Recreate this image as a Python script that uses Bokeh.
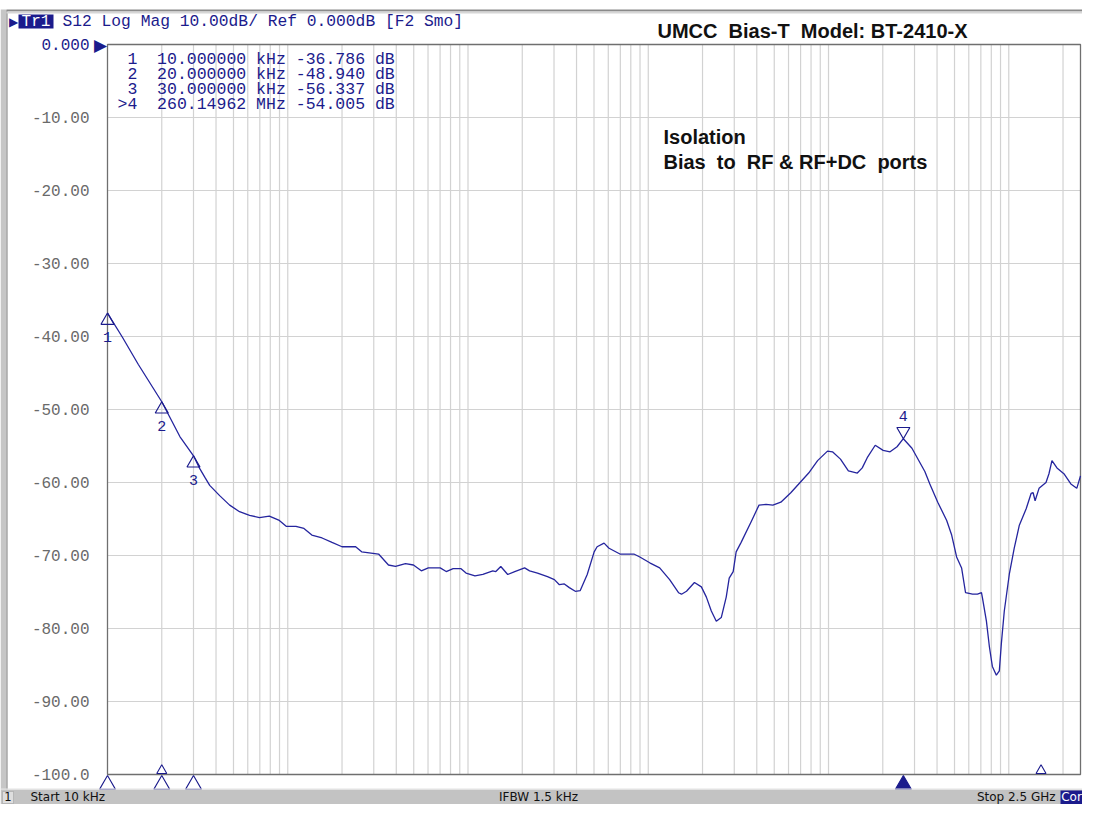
import math
from bokeh.plotting import figure
from bokeh.models import Range1d, Label, LabelSet, BoxAnnotation, ColumnDataSource
from bokeh.core.properties import value
from bokeh.embed import file_html
from bokeh.resources import INLINE

# ---------------- data ----------------
freq_hz = [
    10.0e3, 12.1e3, 14.8e3, 20.0e3, 25.2e3, 30.0e3, 32.5e3, 34.7e3, 36.9e3, 41.9e3,
    47.6e3, 54.0e3, 61.4e3, 69.7e3, 79.0e3, 89.8e3, 98.0e3, 111e3, 123e3, 136e3,
    155e3, 176e3, 200e3, 238e3, 257e3, 319e3, 362e3, 396e3, 450e3, 498e3,
    551e3, 602e3, 701e3, 757e3, 827e3, 915e3, 975e3, 1.093e6, 1.209e6, 1.373e6,
    1.427e6, 1.520e6, 1.661e6, 1.816e6, 2.061e6, 2.196e6, 2.430e6, 2.759e6, 3.015e6, 3.213e6,
    3.423e6, 3.648e6, 3.936e6, 4.195e6, 4.585e6, 5.01e6, 5.203e6, 5.686e6, 6.059e6, 6.966e6,
    8.321e6, 8.979e6, 10.19e6, 11.57e6, 13.14e6, 14.72e6, 15.29e6, 16.30e6, 18.04e6, 19.71e6,
    21.01e6, 22.38e6, 23.85e6, 25.41e6, 27.07e6, 28.12e6, 29.59e6, 30.73e6, 32.75e6, 37.17e6,
    41.15e6, 44.98e6, 49.14e6, 54.39e6, 61.75e6, 68.34e6, 77.6e6, 87.0e6, 98.7e6, 105.2e6,
    116.5e6, 128.9e6, 144.5e6, 153.9e6, 164.0e6, 181.6e6, 200.9e6, 219.6e6, 240.0e6, 260.15e6,
    290.3e6, 342.3e6, 364.8e6, 403.6e6, 452.5e6, 482.2e6, 513.6e6, 547.4e6, 575.8e6, 629.4e6,
    670.7e6, 705.6e6, 714.5e6, 751.6e6, 780.7e6, 811.0e6, 853.3e6, 886.5e6, 909.3e6, 944.5e6,
    1.0065e9, 1.0723e9, 1.143e9, 1.249e9, 1.330e9, 1.365e9, 1.400e9, 1.472e9, 1.609e9, 1.671e9,
    1.736e9, 1.851e9, 2.022e9, 2.210e9, 2.384e9, 2.5e9,
]
s12_db = [
    -36.79, -40.1, -43.8, -48.94, -53.7, -56.34, -58.1, -59.3, -60.4, -61.8,
    -63.1, -64.0, -64.5, -64.8, -64.6, -65.2, -66.0, -66.0, -66.3, -67.2,
    -67.6, -68.2, -68.8, -68.8, -69.5, -69.8, -71.3, -71.5, -71.1, -71.3,
    -72.1, -71.7, -71.7, -72.2, -71.8, -71.8, -72.4, -72.8, -72.6, -72.1,
    -72.2, -71.5, -72.6, -72.2, -71.7, -72.1, -72.4, -72.9, -73.3, -74.0,
    -73.9, -74.4, -74.9, -74.8, -72.6, -69.5, -68.8, -68.3, -69.0, -69.8,
    -69.8, -70.2, -71.0, -71.7, -73.3, -75.1, -75.3, -74.9, -73.7, -74.3,
    -75.7, -77.6, -79.0, -78.5, -75.7, -73.1, -72.2, -69.5, -68.2, -65.4,
    -63.1, -63.0, -63.1, -62.7, -61.4, -60.2, -58.7, -57.0, -55.7, -55.8,
    -56.8, -58.4, -58.7, -58.0, -56.6, -54.9, -55.6, -55.8, -55.1, -54.0,
    -55.3, -58.5, -60.2, -62.7, -65.2, -67.2, -70.2, -71.7, -75.1, -75.3,
    -75.3, -75.1, -75.8, -79.0, -82.5, -85.2, -86.4, -85.8, -82.1, -77.6,
    -72.6, -69.0, -65.9, -63.6, -61.5, -61.4, -62.5, -60.8, -60.0, -58.8,
    -57.0, -58.0, -58.8, -60.2, -60.8, -59.1,
]

marker_ids = ["1", "2", "3", "4"]
marker_freq_hz = [10.0e3, 20.0e3, 30.0e3, 260.14962e6]
marker_db = [-36.786, -48.940, -56.337, -54.005]
marker_freq_text = ["10.000000 kHz", "20.000000 kHz", "30.000000 kHz", "260.14962 MHz"]
active_marker = "4"

ref_marker_freq_hz = [20.0e3, 1.51e9]

y_ticks = [0, -10, -20, -30, -40, -50, -60, -70, -80, -90, -100]
y_tick_labels = ["0.000", "-10.00", "-20.00", "-30.00", "-40.00", "-50.00",
                 "-60.00", "-70.00", "-80.00", "-90.00", "-100.0"]

header_text = "S12 Log Mag 10.00dB/ Ref 0.000dB [F2 Smo]"
title_text = "UMCC\u00a0 Bias-T\u00a0 Model: BT-2410-X"
note_lines = ["Isolation", "Bias\u00a0 to\u00a0 RF & RF+DC\u00a0 ports"]
status_left = "Start 10 kHz"
status_mid = "IFBW 1.5 kHz"
status_right = "Stop 2.5 GHz"

# ---------------- styles / layout ----------------
NAVY = "#1b1b8c"
TRACE = "#25259e"
GRID = "#d2d2d2"
FRAME = "#6f6f6f"
LABEL_GRAY = "#6a6a6a"
MONO = "Liberation Mono"
SANS = "Liberation Sans"
UI = "DejaVu Sans"

W, H = 1082, 804
GL, GR, GT, GB = 107, 1080, 44, 774   # grid area in canvas pixels
BAR_TOP = 789

x0, x1 = freq_hz[0], freq_hz[-1]
y_top, y_bot = y_ticks[0], y_ticks[-1]
dec_px = (GR - GL) / math.log10(x1 / x0)
db_px = (GB - GT) / (y_top - y_bot)
xr = Range1d(10 ** (math.log10(x0) - GL / dec_px), 10 ** (math.log10(x1) + (W - GR) / dec_px))
yr = Range1d(y_bot - (H - GB) / db_px, y_top + GT / db_px)

p = figure(width=W, height=H, x_axis_type="log", x_axis_location=None, y_axis_location=None,
           x_range=xr, y_range=yr, output_backend="svg", toolbar_location=None, title=None,
           min_border=0, min_border_left=0, min_border_right=0, min_border_top=0,
           min_border_bottom=0)
p.background_fill_color = "white"
p.border_fill_color = "white"
p.outline_line_color = None
p.grid.visible = False


def box(cx0, cy0, cx1, cy1, color, line=None):
    p.add_layout(BoxAnnotation(left=cx0, right=cx1, top=H - cy0, bottom=H - cy1,
                               left_units="screen", right_units="screen",
                               top_units="screen", bottom_units="screen",
                               fill_color=color, fill_alpha=1,
                               line_color=line, line_width=1))


def label(cx, cy, text, font=MONO, size="16px", color=NAVY, align="left", style="normal"):
    p.add_layout(Label(x=cx, y=H - cy, x_units="screen", y_units="screen", text=text,
                       text_font=font, text_font_size=size, text_color=color,
                       text_align=align, text_baseline="middle", text_font_style=style))


# grid
x_grid = [k * 10 ** e for e in range(4, 10) for k in range(1, 10) if x0 < k * 10 ** e < x1]
p.segment(x0=x_grid, y0=[y_bot] * len(x_grid), x1=x_grid, y1=[y_top] * len(x_grid),
          line_color=GRID, line_width=1.2)
p.segment(x0=[x0] * len(y_ticks), y0=y_ticks, x1=[x1] * len(y_ticks), y1=y_ticks,
          line_color=GRID, line_width=1.2)
p.quad(left=[x0], right=[x1], bottom=[y_bot], top=[y_top], fill_color=None,
       line_color=FRAME, line_width=1.3)

# y tick labels
ysrc = ColumnDataSource(dict(y=y_ticks, lab=y_tick_labels,
                             col=[NAVY] + [LABEL_GRAY] * (len(y_ticks) - 1)))
p.add_layout(LabelSet(x=x0, y="y", text="lab", source=ysrc, x_offset=-18,
                      text_align="right", text_baseline="middle", text_color="col",
                      text_font=value(MONO), text_font_size=value("16px")))

# trace
p.line(freq_hz, s12_db, line_color=TRACE, line_width=1.3)

# markers on the trace (apex of the triangle on the trace point)
TRI = 13
tri_c = TRI * math.sqrt(3) / 3          # centroid-to-apex distance in px
up_idx = [i for i, m in enumerate(marker_ids) if m != active_marker]
dn_idx = [i for i, m in enumerate(marker_ids) if m == active_marker]
p.scatter(x=[marker_freq_hz[i] for i in up_idx],
          y=[marker_db[i] - tri_c / db_px for i in up_idx],
          marker="triangle", size=TRI, fill_color=None, line_color=NAVY, line_width=1.2)
p.scatter(x=[marker_freq_hz[i] for i in dn_idx],
          y=[marker_db[i] + tri_c / db_px for i in dn_idx],
          marker="inverted_triangle", size=TRI, fill_color=None, line_color=NAVY, line_width=1.2)
src_up = ColumnDataSource(dict(f=[marker_freq_hz[i] for i in up_idx],
                               db=[marker_db[i] for i in up_idx],
                               num=[marker_ids[i] for i in up_idx]))
src_dn = ColumnDataSource(dict(f=[marker_freq_hz[i] for i in dn_idx],
                               db=[marker_db[i] for i in dn_idx],
                               num=[marker_ids[i] for i in dn_idx]))
p.add_layout(LabelSet(x="f", y="db", text="num", source=src_up, text_align="center",
                      text_baseline="middle", y_offset=-24, text_color=NAVY,
                      text_font=value(MONO), text_font_size=value("15px")))
p.add_layout(LabelSet(x="f", y="db", text="num", source=src_dn, text_align="center",
                      text_baseline="middle", y_offset=23, text_color=NAVY,
                      text_font=value(MONO), text_font_size=value("15px")))

# marker indicators below the grid
BTRI = 16
bh = BTRI * math.sqrt(3) / 2
p.scatter(x=marker_freq_hz, y=[y_bot - (1 + 2 * bh / 3) / db_px] * len(marker_freq_hz),
          marker="triangle", size=BTRI, line_color=NAVY, line_width=1.1,
          fill_color=[NAVY if m == active_marker else "white" for m in marker_ids])
STRI = 10
sh = STRI * math.sqrt(3) / 2
p.scatter(x=ref_marker_freq_hz, y=[y_bot + (sh / 3 + 1) / db_px] * len(ref_marker_freq_hz),
          marker="triangle", size=STRI, line_color=NAVY, line_width=1.1, fill_color="white")

# marker table
for i, (m, ft, db) in enumerate(zip(marker_ids, marker_freq_text, marker_db)):
    prefix = ">" if m == active_marker else "\u00a0"
    line = f"{prefix}{m}\u00a0 {ft} {db:.3f} dB"
    label(117, 59 + 15 * i, line, size="16.5px")

# reference level arrow
label(100, GT, "\u25b6", font=UI, size="17px", align="center")

# window chrome
box(0, 9, 6, BAR_TOP, "#c6c6c6")
box(6, 10, 7, BAR_TOP, "#7d7d7d")
box(6, 9, W, 11, "#8a8a8a")
box(6, 11, W, 13, "#d6d6d6")

# header
label(13, 21, "\u25b6", font=UI, size="12px", align="center")
box(18, 14, 53, 28, NAVY)
label(35.5, 21, "Tr1", color="white", align="center")
label(62, 21, header_text, size="16.3px")
label(812, 30, title_text, font=SANS, size="20px", color="#111111", align="center", style="bold")

# annotation text in the grid
for i, t in enumerate(note_lines):
    label(663, 136 + 25 * i, t, font=SANS, size="20px", color="#111111", style="bold")

# status bar
box(0, BAR_TOP, W, H, "#c3c3c3")
box(0, BAR_TOP - 1, W, BAR_TOP, "#e4e4e4")
box(2, BAR_TOP + 2, 13, H - 1, "#dedede", line="#7a7a7a")
label(7.5, 796, "1", font=UI, size="11.5px", color="#111111", align="center")
label(30, 796, status_left, font=UI, size="12px", color="#111111")
label(538, 796, status_mid, font=UI, size="12px", color="#111111", align="center")
label(1055, 796, status_right, font=UI, size="12px", color="#111111", align="right")
box(1060, BAR_TOP + 1, W, H, NAVY)
label(1071, 796, "Cor", font=UI, size="12px", color="white", align="center")

open("out.html", "w").write(file_html(p, INLINE))
